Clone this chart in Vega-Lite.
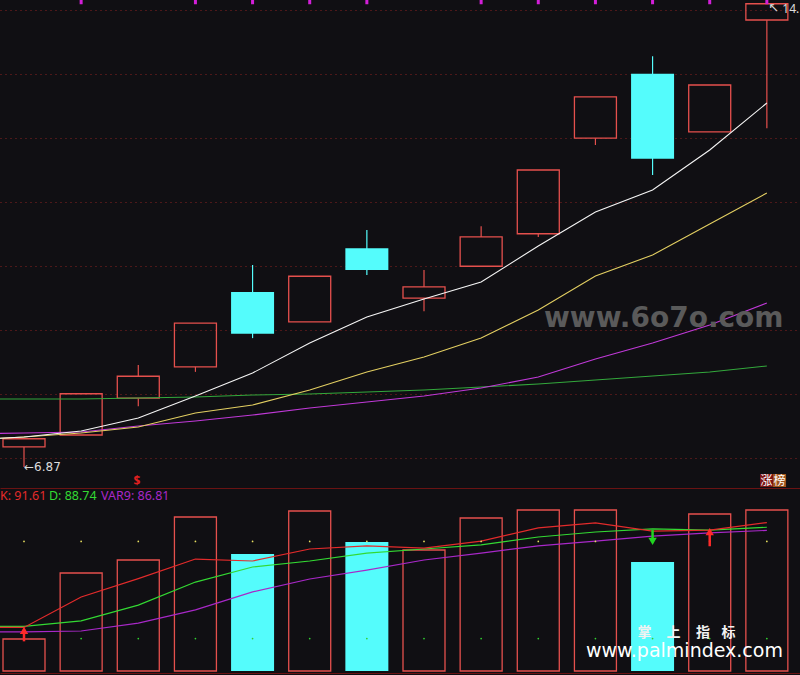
{
  "$schema": "https://vega.github.io/schema/vega-lite/v6.json",
  "background": "#100f13",
  "padding": 0,
  "spacing": 0,
  "bounds": "flush",
  "config": {
    "view": {"stroke": null},
    "axisX": {"domain": true, "domainColor": "#6a1313", "domainWidth": 1, "labels": false, "ticks": false, "grid": false},
    "axisY": {"domain": false, "labels": false, "ticks": false, "grid": true, "gridColor": "#8a2222", "gridWidth": 1, "gridDash": [1, 4]},
    "text": {"font": "Noto Sans"}
  },
  "datasets": {
    "k": [
      {"i": 1, "o": 7.19, "h": 7.32, "l": 6.87, "c": 7.32, "dir": "up", "vol": 3.2},
      {"i": 2, "o": 7.38, "h": 8.05, "l": 7.38, "c": 8.04, "dir": "up", "vol": 9.8},
      {"i": 3, "o": 7.97, "h": 8.50, "l": 7.84, "c": 8.32, "dir": "up", "vol": 11.1},
      {"i": 4, "o": 8.47, "h": 9.17, "l": 8.39, "c": 9.17, "dir": "up", "vol": 15.4},
      {"i": 5, "o": 9.67, "h": 10.10, "l": 8.93, "c": 9.00, "dir": "down", "vol": 11.7},
      {"i": 6, "o": 9.19, "h": 9.92, "l": 9.19, "c": 9.92, "dir": "up", "vol": 16.0},
      {"i": 7, "o": 10.37, "h": 10.66, "l": 9.94, "c": 10.02, "dir": "down", "vol": 12.9},
      {"i": 8, "o": 9.57, "h": 10.02, "l": 9.36, "c": 9.75, "dir": "up", "vol": 12.1},
      {"i": 9, "o": 10.08, "h": 10.72, "l": 10.08, "c": 10.55, "dir": "up", "vol": 15.3},
      {"i": 10, "o": 10.60, "h": 11.62, "l": 10.55, "c": 11.62, "dir": "up", "vol": 16.1},
      {"i": 11, "o": 12.13, "h": 12.79, "l": 12.02, "c": 12.79, "dir": "up", "vol": 16.1},
      {"i": 12, "o": 13.16, "h": 13.44, "l": 11.54, "c": 11.80, "dir": "down", "vol": 10.9},
      {"i": 13, "o": 12.23, "h": 12.98, "l": 12.23, "c": 12.98, "dir": "up", "vol": 15.7},
      {"i": 14, "o": 14.02, "h": 14.28, "l": 12.29, "c": 14.28, "dir": "up", "vol": 16.1}
    ],
    "ma": [
      {"i": 0, "ma5": 7.30, "ma10": 7.30, "ma20": 7.396, "ma60": 7.956},
      {"i": 1, "ma5": 7.348, "ma10": 7.348, "ma20": 7.412, "ma60": 7.956},
      {"i": 2, "ma5": 7.444, "ma10": 7.412, "ma20": 7.428, "ma60": 7.956},
      {"i": 3, "ma5": 7.652, "ma10": 7.508, "ma20": 7.524, "ma60": 7.972},
      {"i": 4, "ma5": 8.004, "ma10": 7.732, "ma20": 7.604, "ma60": 7.988},
      {"i": 5, "ma5": 8.372, "ma10": 7.86, "ma20": 7.70, "ma60": 8.02},
      {"i": 6, "ma5": 8.852, "ma10": 8.10, "ma20": 7.812, "ma60": 8.036},
      {"i": 7, "ma5": 9.268, "ma10": 8.388, "ma20": 7.908, "ma60": 8.068},
      {"i": 8, "ma5": 9.556, "ma10": 8.628, "ma20": 8.004, "ma60": 8.10},
      {"i": 9, "ma5": 9.828, "ma10": 8.932, "ma20": 8.132, "ma60": 8.148},
      {"i": 10, "ma5": 10.404, "ma10": 9.38, "ma20": 8.308, "ma60": 8.196},
      {"i": 11, "ma5": 10.948, "ma10": 9.924, "ma20": 8.596, "ma60": 8.26},
      {"i": 12, "ma5": 11.30, "ma10": 10.26, "ma20": 8.852, "ma60": 8.324},
      {"i": 13, "ma5": 11.94, "ma10": 10.756, "ma20": 9.14, "ma60": 8.388},
      {"i": 14, "ma5": 12.692, "ma10": 11.252, "ma20": 9.492, "ma60": 8.484}
    ],
    "kd": [
      {"i": 0, "K": 26.9, "D": 27.6, "VAR9": 24.1},
      {"i": 1, "K": 26.9, "D": 27.6, "VAR9": 24.1},
      {"i": 2, "K": 45.7, "D": 30.9, "VAR9": 24.7},
      {"i": 3, "K": 57.0, "D": 40.7, "VAR9": 29.6},
      {"i": 4, "K": 69.1, "D": 54.9, "VAR9": 37.7},
      {"i": 5, "K": 67.9, "D": 64.2, "VAR9": 48.8},
      {"i": 6, "K": 75.3, "D": 67.9, "VAR9": 56.8},
      {"i": 7, "K": 77.2, "D": 72.8, "VAR9": 62.3},
      {"i": 8, "K": 75.9, "D": 75.3, "VAR9": 68.5},
      {"i": 9, "K": 80.2, "D": 77.8, "VAR9": 72.8},
      {"i": 10, "K": 88.3, "D": 82.7, "VAR9": 77.2},
      {"i": 11, "K": 91.4, "D": 85.8, "VAR9": 80.2},
      {"i": 12, "K": 86.4, "D": 87.7, "VAR9": 83.3},
      {"i": 13, "K": 87.0, "D": 87.0, "VAR9": 85.2},
      {"i": 14, "K": 91.61, "D": 88.74, "VAR9": 86.81}
    ],
    "sig": [{"i": 2}, {"i": 4}, {"i": 5}, {"i": 6}, {"i": 7}, {"i": 9}, {"i": 10}, {"i": 11}, {"i": 12}, {"i": 13}, {"i": 14}],
    "idx": [{"i": 1}, {"i": 2}, {"i": 3}, {"i": 4}, {"i": 5}, {"i": 6}, {"i": 7}, {"i": 8}, {"i": 9}, {"i": 10}, {"i": 11}, {"i": 12}, {"i": 13}, {"i": 14}],
    "arrows": [
      {"i": 1, "head": 25.0, "tail": 18.3, "kind": "buy"},
      {"i": 13, "head": 86.0, "tail": 77.0, "kind": "buy"},
      {"i": 12, "head": 80.0, "tail": 87.0, "kind": "sell"}
    ]
  },
  "vconcat": [
    {
      "width": 800,
      "height": 488,
      "layer": [
        {
          "data": {"name": "k"},
          "transform": [{"filter": "datum.dir === 'up'"}],
          "mark": {"type": "rule", "color": "#e5504d", "strokeWidth": 1.2},
          "encoding": {
            "x": {"field": "i", "type": "quantitative", "title": null, "scale": {"domain": [0.58, 14.58], "nice": false, "zero": false, "padding": 0}},
            "y": {"field": "l", "type": "quantitative", "title": null, "scale": {"domain": [6.532, 14.34], "nice": false, "zero": false, "padding": 0},
                  "axis": {"values": [14.18, 13.668, 13.156, 12.644, 12.132, 11.62, 11.108, 10.596, 10.084, 9.572, 9.06, 8.548, 8.036, 7.524, 7.012]}},
            "y2": {"field": "o"}
          }
        },
        {
          "data": {"name": "k"},
          "transform": [{"filter": "datum.dir === 'up'"}],
          "mark": {"type": "rule", "color": "#e5504d", "strokeWidth": 1.2},
          "encoding": {
            "x": {"field": "i", "type": "quantitative", "title": null},
            "y": {"field": "c", "type": "quantitative", "title": null},
            "y2": {"field": "h"}
          }
        },
        {
          "data": {"name": "k"},
          "transform": [{"filter": "datum.dir === 'down'"}],
          "mark": {"type": "rule", "color": "#54fcfc", "strokeWidth": 1.2},
          "encoding": {
            "x": {"field": "i", "type": "quantitative", "title": null},
            "y": {"field": "l", "type": "quantitative", "title": null},
            "y2": {"field": "h"}
          }
        },
        {
          "data": {"name": "k"},
          "transform": [{"filter": "datum.dir === 'up'"}],
          "mark": {"type": "bar", "size": 42, "fillOpacity": 0, "stroke": "#e5504d", "strokeWidth": 1.3},
          "encoding": {
            "x": {"field": "i", "type": "quantitative", "title": null},
            "y": {"field": "o", "type": "quantitative", "title": null},
            "y2": {"field": "c"}
          }
        },
        {
          "data": {"name": "k"},
          "transform": [{"filter": "datum.dir === 'down'"}],
          "mark": {"type": "bar", "size": 43, "color": "#54fcfc"},
          "encoding": {
            "x": {"field": "i", "type": "quantitative", "title": null},
            "y": {"field": "o", "type": "quantitative", "title": null},
            "y2": {"field": "c"}
          }
        },
        {
          "data": {"name": "ma"},
          "transform": [{"fold": ["ma60", "ma20", "ma10", "ma5"], "as": ["key", "p"]}],
          "mark": {"type": "line", "strokeWidth": 1.1, "clip": true},
          "encoding": {
            "x": {"field": "i", "type": "quantitative", "title": null},
            "y": {"field": "p", "type": "quantitative", "title": null},
            "color": {"field": "key", "type": "nominal", "legend": null,
                      "scale": {"domain": ["ma5", "ma10", "ma20", "ma60"], "range": ["#f5f5f5", "#e3cf62", "#c039d8", "#33a83c"]}}
          }
        },
        {
          "data": {"name": "sig"},
          "mark": {"type": "bar", "size": 3, "color": "#d21fd8"},
          "encoding": {
            "x": {"field": "i", "type": "quantitative", "title": null},
            "y": {"datum": 14.34, "type": "quantitative"},
            "y2": {"datum": 14.272}
          }
        },
        {
          "data": {"values": [{}]},
          "mark": {"type": "text", "align": "left", "baseline": "middle", "fontSize": 12, "color": "#dcdcdc", "font": "DejaVu Sans"},
          "encoding": {
            "x": {"datum": 1, "type": "quantitative"},
            "y": {"datum": 6.87, "type": "quantitative"},
            "text": {"value": "←6.87"}
          }
        },
        {
          "data": {"values": [{}]},
          "mark": {"type": "text", "align": "center", "baseline": "middle", "fontSize": 13, "color": "#dcdcdc", "font": "DejaVu Sans"},
          "encoding": {
            "x": {"datum": 14.12, "type": "quantitative"},
            "y": {"datum": 14.22, "type": "quantitative"},
            "text": {"value": "↖"}
          }
        },
        {
          "data": {"values": [{}]},
          "mark": {"type": "text", "align": "left", "baseline": "middle", "fontSize": 12, "color": "#dcdcdc", "limit": 17.5, "ellipsis": "\u200b"},
          "encoding": {
            "x": {"datum": 14.27, "type": "quantitative"},
            "y": {"datum": 14.19, "type": "quantitative"},
            "text": {"value": "14.28"}
          }
        },
        {
          "data": {"values": [{}]},
          "mark": {"type": "text", "align": "center", "baseline": "middle", "fontSize": 12, "fontWeight": "bold", "color": "#e02020"},
          "encoding": {
            "x": {"datum": 2.978, "type": "quantitative"},
            "y": {"datum": 6.64, "type": "quantitative"},
            "text": {"value": "$"}
          }
        },
        {
          "data": {"values": [{}]},
          "mark": {"type": "rect", "color": "#7b1414"},
          "encoding": {
            "x": {"datum": 13.88, "type": "quantitative"},
            "x2": {"datum": 14.108},
            "y": {"datum": 6.756, "type": "quantitative"},
            "y2": {"datum": 6.548}
          }
        },
        {
          "data": {"values": [{}]},
          "mark": {"type": "rect", "color": "#a0541c"},
          "encoding": {
            "x": {"datum": 14.108, "type": "quantitative"},
            "x2": {"datum": 14.336},
            "y": {"datum": 6.756, "type": "quantitative"},
            "y2": {"datum": 6.548}
          }
        },
        {
          "data": {"values": [{}]},
          "mark": {"type": "text", "align": "center", "baseline": "middle", "fontSize": 12, "color": "#ffffff", "font": "Noto Sans CJK SC"},
          "encoding": {
            "x": {"datum": 13.994, "type": "quantitative"},
            "y": {"datum": 6.652, "type": "quantitative"},
            "text": {"value": "涨"}
          }
        },
        {
          "data": {"values": [{}]},
          "mark": {"type": "text", "align": "center", "baseline": "middle", "fontSize": 12, "color": "#ffffff", "font": "Noto Sans CJK SC"},
          "encoding": {
            "x": {"datum": 14.222, "type": "quantitative"},
            "y": {"datum": 6.652, "type": "quantitative"},
            "text": {"value": "榜"}
          }
        },
        {
          "data": {"values": [{}]},
          "mark": {"type": "text", "align": "left", "baseline": "middle", "fontSize": 28, "fontWeight": "bold", "color": "#5a5a5a", "font": "DejaVu Sans"},
          "encoding": {
            "x": {"datum": 10.1, "type": "quantitative"},
            "y": {"datum": 9.236, "type": "quantitative"},
            "text": {"value": "www.6o7o.com"}
          }
        }
      ]
    },
    {
      "width": 800,
      "height": 187,
      "resolve": {"scale": {"y": "independent", "color": "independent"}},
      "layer": [
        {
          "data": {"name": "k"},
          "transform": [{"filter": "datum.dir === 'up'"}],
          "mark": {"type": "bar", "size": 42, "fillOpacity": 0, "stroke": "#e5504d", "strokeWidth": 1.3},
          "encoding": {
            "x": {"field": "i", "type": "quantitative", "title": null, "scale": {"domain": [0.58, 14.58], "nice": false, "zero": false, "padding": 0}, "axis": {"offset": -2}},
            "y": {"field": "vol", "type": "quantitative", "title": null, "scale": {"domain": [-0.4, 18.3], "nice": false, "zero": false, "padding": 0}, "axis": null},
            "y2": {"datum": 0}
          }
        },
        {
          "data": {"name": "k"},
          "transform": [{"filter": "datum.dir === 'down'"}],
          "mark": {"type": "bar", "size": 43, "color": "#54fcfc"},
          "encoding": {
            "x": {"field": "i", "type": "quantitative", "title": null},
            "y": {"field": "vol", "type": "quantitative", "title": null, "scale": {"domain": [-0.4, 18.3], "nice": false, "zero": false, "padding": 0}, "axis": null},
            "y2": {"datum": 0}
          }
        },
        {
          "data": {"name": "kd"},
          "transform": [{"fold": ["VAR9", "D", "K"], "as": ["key", "v"]}],
          "mark": {"type": "line", "strokeWidth": 1.2, "clip": true},
          "encoding": {
            "x": {"field": "i", "type": "quantitative", "title": null},
            "y": {"field": "v", "type": "quantitative", "title": null, "scale": {"domain": [-2.47, 112.96], "nice": false, "zero": false},
                  "axis": {"values": [20, 40, 60, 80]}},
            "color": {"field": "key", "type": "nominal", "legend": null,
                      "scale": {"domain": ["K", "D", "VAR9"], "range": ["#e32b2b", "#33d933", "#a828c8"]}}
          }
        },
        {
          "data": {"name": "idx"},
          "mark": {"type": "point", "filled": true, "size": 3, "color": "#e8e060", "opacity": 1},
          "encoding": {
            "x": {"field": "i", "type": "quantitative", "title": null},
            "y": {"datum": 80, "type": "quantitative", "scale": {"domain": [-2.47, 112.96], "nice": false, "zero": false}, "axis": null}
          }
        },
        {
          "data": {"name": "idx"},
          "mark": {"type": "point", "filled": true, "size": 3, "color": "#30d030", "opacity": 1},
          "encoding": {
            "x": {"field": "i", "type": "quantitative", "title": null},
            "y": {"datum": 20, "type": "quantitative", "scale": {"domain": [-2.47, 112.96], "nice": false, "zero": false}, "axis": null}
          }
        },
        {
          "data": {"name": "arrows"},
          "transform": [{"filter": "datum.kind === 'buy'"}],
          "mark": {"type": "rule", "color": "#ff2a2a", "strokeWidth": 2.5},
          "encoding": {
            "x": {"field": "i", "type": "quantitative", "title": null},
            "y": {"field": "tail", "type": "quantitative", "title": null, "scale": {"domain": [-2.47, 112.96], "nice": false, "zero": false}, "axis": null},
            "y2": {"field": "head"}
          }
        },
        {
          "data": {"name": "arrows"},
          "transform": [{"filter": "datum.kind === 'buy'"}],
          "mark": {"type": "point", "shape": "triangle-up", "filled": true, "size": 70, "color": "#ff2a2a", "opacity": 1},
          "encoding": {
            "x": {"field": "i", "type": "quantitative", "title": null},
            "y": {"field": "head", "type": "quantitative", "title": null, "scale": {"domain": [-2.47, 112.96], "nice": false, "zero": false}, "axis": null}
          }
        },
        {
          "data": {"name": "arrows"},
          "transform": [{"filter": "datum.kind === 'sell'"}],
          "mark": {"type": "rule", "color": "#21d421", "strokeWidth": 2.5},
          "encoding": {
            "x": {"field": "i", "type": "quantitative", "title": null},
            "y": {"field": "tail", "type": "quantitative", "title": null, "scale": {"domain": [-2.47, 112.96], "nice": false, "zero": false}, "axis": null},
            "y2": {"field": "head"}
          }
        },
        {
          "data": {"name": "arrows"},
          "transform": [{"filter": "datum.kind === 'sell'"}],
          "mark": {"type": "point", "shape": "triangle-down", "filled": true, "size": 70, "color": "#21d421", "opacity": 1},
          "encoding": {
            "x": {"field": "i", "type": "quantitative", "title": null},
            "y": {"field": "head", "type": "quantitative", "title": null, "scale": {"domain": [-2.47, 112.96], "nice": false, "zero": false}, "axis": null}
          }
        },
        {
          "data": {"values": [{}]},
          "mark": {"type": "text", "align": "left", "baseline": "middle", "fontSize": 12.5, "color": "#e32b2b"},
          "encoding": {
            "x": {"datum": 0.58, "type": "quantitative"},
            "y": {"datum": 108, "type": "quantitative", "scale": {"domain": [-2.47, 112.96], "nice": false, "zero": false}, "axis": null},
            "text": {"value": "K: 91.61"}
          }
        },
        {
          "data": {"values": [{}]},
          "mark": {"type": "text", "align": "left", "baseline": "middle", "fontSize": 12.5, "color": "#33d933"},
          "encoding": {
            "x": {"datum": 1.437, "type": "quantitative"},
            "y": {"datum": 108, "type": "quantitative", "scale": {"domain": [-2.47, 112.96], "nice": false, "zero": false}, "axis": null},
            "text": {"value": "D: 88.74"}
          }
        },
        {
          "data": {"values": [{}]},
          "mark": {"type": "text", "align": "left", "baseline": "middle", "fontSize": 12.5, "color": "#a828c8"},
          "encoding": {
            "x": {"datum": 2.347, "type": "quantitative"},
            "y": {"datum": 108, "type": "quantitative", "scale": {"domain": [-2.47, 112.96], "nice": false, "zero": false}, "axis": null},
            "text": {"value": "VAR9: 86.81"}
          }
        },
        {
          "data": {"values": [{"ch": "掌", "x": 11.858}, {"ch": "上", "x": 12.365}, {"ch": "指", "x": 12.881}, {"ch": "标", "x": 13.327}]},
          "mark": {"type": "text", "align": "center", "baseline": "middle", "fontSize": 14, "fontWeight": "bold", "color": "#f2f2f2", "font": "Noto Sans CJK SC"},
          "encoding": {
            "x": {"field": "x", "type": "quantitative", "title": null},
            "y": {"datum": 23.5, "type": "quantitative", "scale": {"domain": [-2.47, 112.96], "nice": false, "zero": false}, "axis": null},
            "text": {"field": "ch"}
          }
        },
        {
          "data": {"values": [{}]},
          "mark": {"type": "text", "align": "left", "baseline": "middle", "fontSize": 19, "color": "#ffffff", "font": "DejaVu Sans"},
          "encoding": {
            "x": {"datum": 10.834, "type": "quantitative"},
            "y": {"datum": 12.3, "type": "quantitative", "scale": {"domain": [-2.47, 112.96], "nice": false, "zero": false}, "axis": null},
            "text": {"value": "www.palmindex.com"}
          }
        }
      ]
    }
  ]
}
